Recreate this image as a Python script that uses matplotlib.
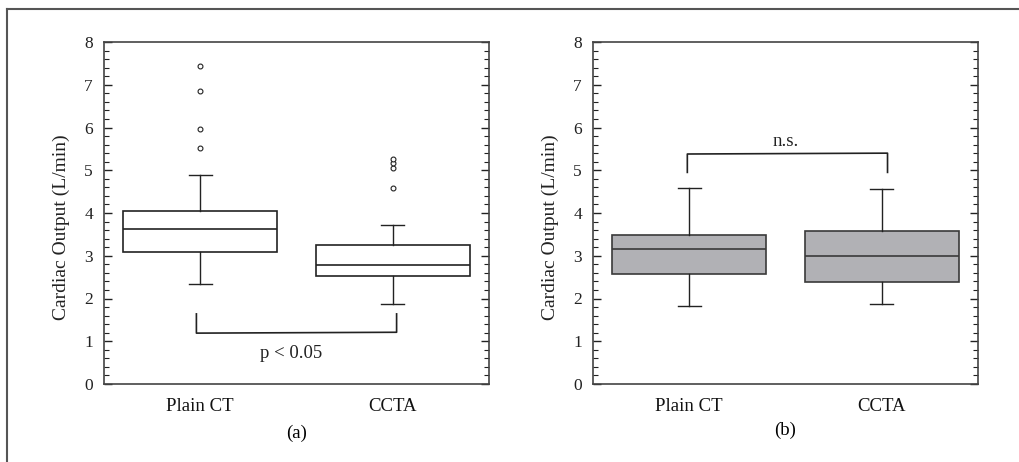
import matplotlib
matplotlib.use("Agg")
import matplotlib.pyplot as plt
from matplotlib.ticker import MultipleLocator
from matplotlib.lines import Line2D

plt.rcParams['font.family'] = ['Liberation Serif', 'DejaVu Serif']

categories = ["Plain CT", "CCTA"]
# box statistics: (whislo, q1, med, q3, whishi, fliers)
stats_a = [
    dict(whislo=2.34, q1=3.08, med=3.62, q3=4.05, whishi=4.90, fliers=[5.53, 5.97, 6.85, 7.45]),
    dict(whislo=1.87, q1=2.52, med=2.78, q3=3.24, whishi=3.73, fliers=[4.58, 5.05, 5.16, 5.26]),
]
stats_b = [
    dict(whislo=1.82, q1=2.57, med=3.15, q3=3.49, whishi=4.58, fliers=[]),
    dict(whislo=1.86, q1=2.38, med=2.99, q3=3.59, whishi=4.55, fliers=[]),
]
panel_labels = ["(a)", "(b)"]
sig_a = "p < 0.05"
sig_b = "n.s."

fig = plt.figure(figsize=(10.2, 4.62), dpi=100)

# outer frame (top and left lines)
fig.add_artist(Line2D([7/1020, 7/1020], [0, 1 - 9/462], color='#555555', lw=1.5, transform=fig.transFigure))
fig.add_artist(Line2D([7/1020, 1], [1 - 9/462, 1 - 9/462], color='#555555', lw=1.5, transform=fig.transFigure))

W, H = 1020, 462
ax_a = fig.add_axes([104/W, 1 - 384/H, 385/W, 342/H])
ax_b = fig.add_axes([593/W, 1 - 384/H, 385/W, 342/H])

def draw(ax, stats, face, edge):
    for s, lab in zip(stats, categories):
        s['label'] = lab
    ax.bxp(stats, positions=[1, 2], widths=0.8, patch_artist=True,
           boxprops=dict(facecolor=face, edgecolor=edge, linewidth=1.2),
           medianprops=dict(color=edge, linewidth=1.2),
           whiskerprops=dict(color='#222222', linewidth=1.0),
           capprops=dict(color='#222222', linewidth=1.0),
           flierprops=dict(marker='o', markersize=3.5, markerfacecolor='white',
                           markeredgecolor='#222222', markeredgewidth=0.8),
           capwidths=0.12)
    ax.set_xlim(0.5, 2.5)
    ax.set_ylim(0, 8)
    ax.yaxis.set_major_locator(MultipleLocator(1))
    ax.yaxis.set_minor_locator(MultipleLocator(0.2))
    ax.tick_params(axis='y', which='both', direction='in', left=True, right=True,
                   labelsize=12.5, colors='#222222', pad=8)
    ax.tick_params(axis='y', which='major', length=6, width=1.0)
    ax.tick_params(axis='y', which='minor', length=3.5, width=0.8)
    ax.tick_params(axis='x', length=0, labelsize=13.5, pad=10, colors='#111111')
    for sp in ax.spines.values():
        sp.set_color('#444444')
        sp.set_linewidth(1.2)
    ax.set_ylabel("Cardiac Output (L/min)", fontsize=14, color='#222222')
    ax.yaxis.set_label_coords(-0.088, 0.459)

draw(ax_a, stats_a, 'white', '#222222')
draw(ax_b, stats_b, '#b1b1b5', '#3a3a3a')

# significance brackets
ax_a.plot([0.98, 0.98, 2.02, 2.02], [1.64, 1.19, 1.21, 1.64], color='#222222', lw=1.2)
ax_a.text(1.47, 0.72, sig_a, ha='center', va='center', fontsize=13.5, color='#222222')
ax_b.plot([0.99, 0.99, 2.03, 2.03], [4.95, 5.38, 5.40, 4.95], color='#222222', lw=1.2)
ax_b.text(1.5, 5.68, sig_b, ha='center', va='center', fontsize=13.5, color='#222222')

ax_a.text(0.5, -0.143, panel_labels[0], transform=ax_a.transAxes, ha='center', va='center', fontsize=13.5)
ax_b.text(0.5, -0.135, panel_labels[1], transform=ax_b.transAxes, ha='center', va='center', fontsize=13.5)

fig.savefig("out.png", dpi=100, facecolor='white')
